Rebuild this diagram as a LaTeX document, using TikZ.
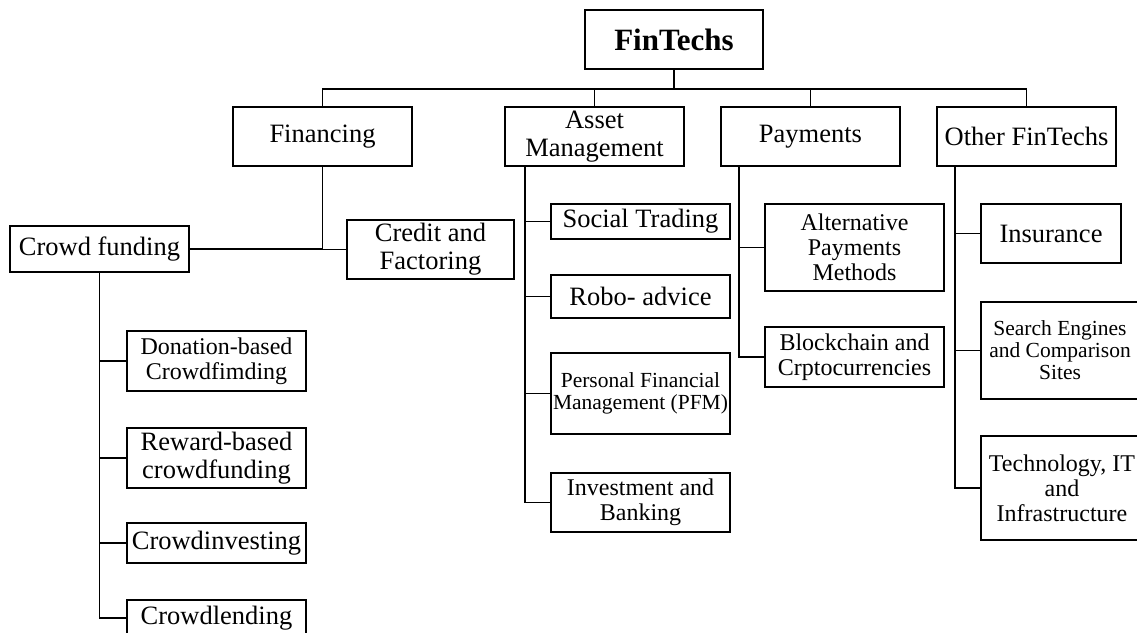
\documentclass[tikz,border=0pt]{standalone}
\usepackage{fontspec}
\setmainfont{Liberation Serif}
\begin{document}
\begin{tikzpicture}[x=1pt,y=-1pt,
  box/.style={draw, line width=1.8pt, inner sep=0pt, align=center,
              font=\fontsize{26.5}{28}\selectfont},
  sz/.style 2 args={minimum width=#1pt, minimum height=#2pt},
  mid/.style={font=\fontsize{24}{25}\selectfont},
  small/.style={font=\fontsize{21.5}{22}\selectfont},
  link/.style={line width=1.8pt},
  trunk/.style={line width=2.6pt}]
\useasboundingbox (0,0) rectangle (1137,632);

% root
\node[box, sz={178}{59}, font=\bfseries\fontsize{31}{33}\selectfont] (fin) at (674,39.5) {FinTechs};

% first level
\node[box, sz={179}{59}] (finan) at (322.5,136.5) {Financing};
\node[box, sz={179}{59}] (asset) at (594.5,136.5) {Asset\\Management};
\node[box, sz={179}{59}] (pay)   at (810.5,136.5) {Payments};
\node[box, sz={179}{59}] (other) at (1026.5,136.5) {Other FinTechs};

% financing branch
\node[box, sz={179}{46}] (crowd)  at (99.5,249) {Crowd funding};
\node[box, sz={167}{59}] (credit) at (430.5,249.5) {Credit and\\Factoring};

\node[box, mid, sz={179}{60}] (donation)  at (216.5,361) {Donation-based\\Crowdfimding};
\node[box, sz={179}{60}]      (reward)    at (216.5,458) {Reward-based\\crowdfunding};
\node[box, sz={179}{40}]      (crowdinv)  at (216.5,543) {Crowdinvesting};
\node[box, sz={179}{36}]      (crowdlend) at (216.5,618) {Crowdlending};

% asset management branch
\node[box, sz={179}{35}]        (social) at (640.5,221.5) {Social Trading};
\node[box, sz={179}{43}]        (robo)   at (640.5,296.5) {Robo- advice};
\node[box, small, sz={179}{81}] (pfm)    at (640.5,393.5) {Personal Financial\\Management (PFM)};
\node[box, mid, sz={179}{59}]   (invest) at (640.5,502.5) {Investment and\\Banking};

% payments branch
\node[box, mid, sz={179}{87}] (altpay) at (854.5,247.5) {Alternative\\Payments\\Methods};
\node[box, mid, sz={179}{60}] (block)  at (854.5,357) {Blockchain and\\Crptocurrencies};

% other fintechs branch
\node[box, sz={140}{59}]         (insur)  at (1051,233.5) {Insurance};
\node[box, small, sz={158}{97}]  (search) at (1060,350.5) {Search Engines\\and Comparison\\Sites};
\node[box, mid, sz={162}{104}]   (tech)   at (1062,488) {Technology, IT\\and\\Infrastructure};

% connectors from the root
\coordinate (hub) at (674,89);
\draw[trunk] (fin.south) -- (hub);
\draw[link] (finan.north) |- (hub) -| (other.north);
\draw[link] (hub) -| (asset.north);
\draw[link] (hub) -| (pay.north);

% financing
\draw[link] (finan.south) |- (crowd.east);
\draw[link] (finan.south) |- (credit.west);
\foreach \c in {donation,reward,crowdinv,crowdlend}
  \draw[link] (crowd.south) |- (\c.west);

% asset management
\foreach \c in {social,robo,pfm,invest}
  \draw[link] ([xshift=21pt]asset.south west) |- (\c.west);

% payments
\foreach \c in {altpay,block}
  \draw[link] ([xshift=19pt]pay.south west) |- (\c.west);

% other fintechs
\foreach \c in {insur,search,tech}
  \draw[link] ([xshift=19pt]other.south west) |- (\c.west);
\end{tikzpicture}
\end{document}
